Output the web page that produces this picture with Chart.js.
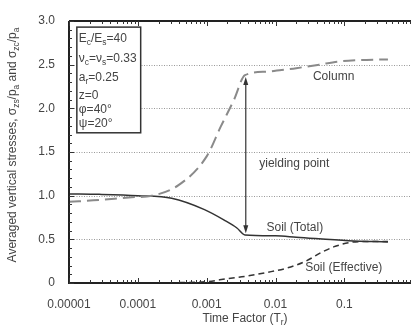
<!DOCTYPE html>
<html><head><meta charset="utf-8">
<script src="https://cdn.jsdelivr.net/npm/chart.js@4/dist/chart.umd.min.js"></script>
<style>html,body{margin:0;padding:0;background:#fff}#wrap{width:417px;height:327px}</style>
</head><body><div id="wrap"><canvas id="c" width="417" height="327"></canvas></div>
<script>
// Time factor values (x) and averaged vertical stresses (y)
const columnT = [0.00001,0.0000275,0.000074,0.00016,0.00039,0.001,0.0016,0.0025,0.0036,0.0074,0.0123,0.02,0.043,0.08,0.145,0.43];
const columnS = [0.93,0.95,0.98,1.0,1.12,1.45,1.79,2.10,2.38,2.42,2.44,2.46,2.50,2.535,2.55,2.56];
const soilTotalT = [0.00001,0.0000275,0.0001,0.00031,0.00093,0.0018,0.00275,0.0036,0.01,0.02,0.115,0.43];
const soilTotalS = [1.02,1.015,1.0,0.97,0.84,0.72,0.63,0.55,0.54,0.525,0.485,0.47];
const soilEffT = [0.00001,0.0001,0.00039,0.001,0.002,0.0039,0.0074,0.0145,0.0275,0.049,0.074,0.123,0.2,0.43];
const soilEffS = [0,0,0.005,0.015,0.05,0.08,0.12,0.17,0.25,0.36,0.42,0.465,0.475,0.475];
const xTickLabels = ['0.00001','0.0001','0.001','0.01','0.1'];
const yTickLabels = ['0','0.5','1.0','1.5','2.0','2.5','3.0'];
const yieldT = 0.0037, yieldTop = 2.36, yieldBottom = 0.57;

const pts = (xs, ys) => xs.map((x,i)=>({x, y: ys[i]}));
const FONT = '"Liberation Sans", Arial, sans-serif';
const TXT = '#444';

function drawSub(ctx, parts, x, y, size) {
  let cx = x;
  for (const [t, k] of parts) {
    if (k === 's') {
      ctx.font = (size*0.7).toFixed(1) + 'px ' + FONT;
      ctx.fillText(t, cx, y + size*0.28);
    } else {
      ctx.font = size + 'px ' + FONT;
      ctx.fillText(t, cx, y);
    }
    cx += ctx.measureText(t).width;
  }
  return cx - x;
}
function measureSub(ctx, parts, size) {
  let w = 0;
  for (const [t,k] of parts) {
    ctx.font = (k==='s' ? (size*0.7).toFixed(1) : size) + 'px ' + FONT;
    w += ctx.measureText(t).width;
  }
  return w;
}

const deco = {
  id: 'deco',
  beforeDatasetsDraw(chart) {
    const {ctx, chartArea: a, scales: {x, y}} = chart;
    ctx.save();
    ctx.strokeStyle = '#999'; ctx.lineWidth = 1; ctx.setLineDash([1,1.5]);
    for (const v of [0.5,1.0,1.5,2.0,2.5]) {
      const py = Math.round(y.getPixelForValue(v)) + 0.5;
      ctx.beginPath(); ctx.moveTo(a.left, py); ctx.lineTo(a.right, py); ctx.stroke();
    }
    ctx.setLineDash([]);
    ctx.restore();
  },
  afterDraw(chart) {
    const {ctx, chartArea: a, scales: {x, y}} = chart;
    ctx.save();
    ctx.strokeStyle = '#222'; ctx.lineWidth = 2;
    ctx.beginPath(); ctx.moveTo(a.left, a.top); ctx.lineTo(a.left, a.bottom); ctx.lineTo(a.right, a.bottom); ctx.stroke();
    ctx.beginPath(); ctx.moveTo(a.left, a.top); ctx.lineTo(a.right, a.top); ctx.stroke();
    ctx.lineWidth = 1; ctx.strokeStyle = '#333';
    for (let e = -5; e <= 0; e++) {
      for (let m = 1; m <= 9; m++) {
        const v = m * Math.pow(10, e);
        if (v < x.min || v > x.max) continue;
        const px = Math.round(x.getPixelForValue(v)) + 0.5;
        const len = m === 1 ? 5 : 3;
        ctx.beginPath(); ctx.moveTo(px, a.bottom); ctx.lineTo(px, a.bottom - len); ctx.stroke();
        ctx.beginPath(); ctx.moveTo(px, a.top); ctx.lineTo(px, a.top + len); ctx.stroke();
      }
    }
    for (let i = 0; i <= 30; i++) {
      const v = i / 10;
      const py = Math.round(y.getPixelForValue(v)) + 0.5;
      const len = i % 5 === 0 ? 5 : 3;
      ctx.beginPath(); ctx.moveTo(a.left, py); ctx.lineTo(a.left + len, py); ctx.stroke();
    }
    // legend box
    const bx1 = x.getPixelForValue(0.0000130), bx2 = x.getPixelForValue(0.000110);
    const by1 = y.getPixelForValue(2.93), by2 = y.getPixelForValue(1.72);
    ctx.fillStyle = '#fff';
    ctx.fillRect(bx1, by1, bx2 - bx1, by2 - by1);
    ctx.strokeStyle = '#333'; ctx.lineWidth = 1.5;
    ctx.strokeRect(bx1, by1, bx2 - bx1, by2 - by1);
    ctx.fillStyle = TXT; ctx.textBaseline = 'alphabetic'; ctx.textAlign = 'left';
    const tx = bx1 + 2, fs = 12;
    drawSub(ctx, [['E','n'],['c','s'],['/E','n'],['s','s'],['=40','n']], tx, 42, fs);
    drawSub(ctx, [['ν','n'],['c','s'],['=ν','n'],['s','s'],['=0.33','n']], tx, 62, fs);
    drawSub(ctx, [['a','n'],['r','s'],['=0.25','n']], tx, 81, fs);
    drawSub(ctx, [['z=0','n']], tx, 99, fs);
    drawSub(ctx, [['φ=40°','n']], tx, 113, fs);
    drawSub(ctx, [['ψ=20°','n']], tx, 127, fs);
    // arrow
    const ax = x.getPixelForValue(yieldT);
    const ay1 = y.getPixelForValue(yieldTop), ay2 = y.getPixelForValue(yieldBottom);
    ctx.strokeStyle = '#333'; ctx.fillStyle = '#333'; ctx.lineWidth = 1.2;
    ctx.beginPath(); ctx.moveTo(ax, ay1 + 4); ctx.lineTo(ax, ay2 - 4); ctx.stroke();
    ctx.beginPath(); ctx.moveTo(ax, ay1); ctx.lineTo(ax - 2.5, ay1 + 8); ctx.lineTo(ax + 2.5, ay1 + 8); ctx.closePath(); ctx.fill();
    ctx.beginPath(); ctx.moveTo(ax, ay2); ctx.lineTo(ax - 2.5, ay2 - 8); ctx.lineTo(ax + 2.5, ay2 - 8); ctx.closePath(); ctx.fill();
    // annotations
    ctx.fillStyle = TXT; ctx.font = '12px ' + FONT; ctx.textBaseline = 'middle';
    ctx.fillText('Column', x.getPixelForValue(0.035), y.getPixelForValue(2.36));
    ctx.fillText('yielding point', x.getPixelForValue(0.0058), y.getPixelForValue(1.37));
    ctx.fillText('Soil (Total)', x.getPixelForValue(0.0074), y.getPixelForValue(0.63));
    ctx.fillText('Soil (Effective)', x.getPixelForValue(0.027), y.getPixelForValue(0.17));
    // x title
    ctx.textBaseline = 'alphabetic';
    const xt = [['Time Factor (T','n'],['r','s'],[')','n']];
    const xw = measureSub(ctx, xt, 12);
    drawSub(ctx, xt, 245 - xw/2, 322, 12);
    // y title
    ctx.translate(16, 145); ctx.rotate(-Math.PI/2);
    const yt = [['Averaged vertical stresses, σ','n'],['zs','s'],['/p','n'],['a','s'],[' and σ','n'],['zc','s'],['/p','n'],['a','s']];
    const yw = measureSub(ctx, yt, 12);
    drawSub(ctx, yt, -yw/2, 0, 12);
    ctx.restore();
  }
};

new Chart(document.getElementById('c'), {
  type: 'line',
  data: {
    datasets: [
      {label: 'Column', data: pts(columnT, columnS), borderColor: '#8a8a8a', borderWidth: 2, borderDash: [12,6], pointRadius: 0, cubicInterpolationMode: 'monotone', fill: false},
      {label: 'Soil (Total)', data: pts(soilTotalT, soilTotalS), borderColor: '#333', borderWidth: 1.5, pointRadius: 0, cubicInterpolationMode: 'monotone', fill: false},
      {label: 'Soil (Effective)', data: pts(soilEffT, soilEffS), borderColor: '#333', borderWidth: 1.5, borderDash: [6,4], pointRadius: 0, cubicInterpolationMode: 'monotone', fill: false}
    ]
  },
  options: {
    responsive: false, animation: false,
    layout: {padding: {top: 21, right: 0, left: 0, bottom: 0}},
    plugins: {legend: {display: false}, tooltip: {enabled: false}},
    scales: {
      x: {
        type: 'logarithmic', min: 0.00001, max: 0.93,
        grid: {display: false}, border: {display: false},
        afterFit(s) { s.height = 44; },
        ticks: {
          autoSkip: false, maxRotation: 0, padding: 6, color: TXT, font: {size: 12, family: FONT},
          callback(v) {
            const l = Math.log10(v);
            if (Math.abs(l - Math.round(l)) > 1e-6) return '';
            const idx = Math.round(l) + 5;
            return xTickLabels[idx] !== undefined ? xTickLabels[idx] : '';
          }
        }
      },
      y: {
        min: 0, max: 3,
        grid: {display: false}, border: {display: false},
        afterFit(s) { s.width = 69; },
        ticks: {
          stepSize: 0.5, padding: 6, color: TXT, font: {size: 12, family: FONT},
          callback(v) { const i = Math.round(v / 0.5); return yTickLabels[i]; }
        }
      }
    }
  },
  plugins: [deco]
});
</script>
</body></html>
